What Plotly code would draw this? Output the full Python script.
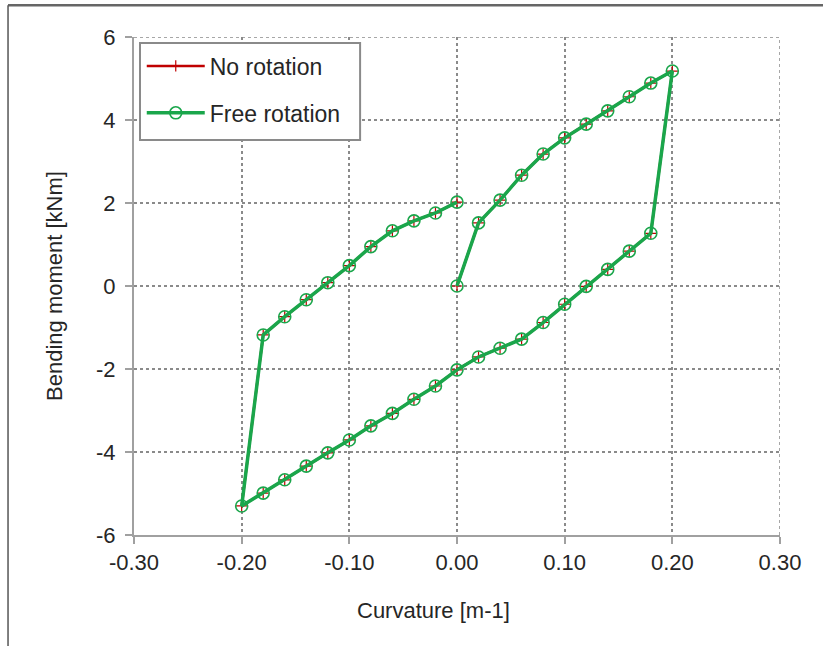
import plotly.graph_objects as go

curvature = [0.00, 0.02, 0.04, 0.06, 0.08, 0.10, 0.12, 0.14, 0.16, 0.18, 0.20,
             0.18, 0.16, 0.14, 0.12, 0.10, 0.08, 0.06, 0.04, 0.02, 0.00,
             -0.02, -0.04, -0.06, -0.08, -0.10, -0.12, -0.14, -0.16, -0.18, -0.20,
             -0.18, -0.16, -0.14, -0.12, -0.10, -0.08, -0.06, -0.04, -0.02, 0.00]
moment_no_rot = [0.00, 1.52, 2.07, 2.67, 3.18, 3.57, 3.90, 4.22, 4.56, 4.89, 5.18,
                 1.27, 0.84, 0.40, -0.01, -0.44, -0.88, -1.28, -1.50, -1.71, -2.02,
                 -2.41, -2.73, -3.07, -3.37, -3.71, -4.02, -4.34, -4.67, -4.99, -5.30,
                 -1.18, -0.74, -0.33, 0.08, 0.49, 0.95, 1.33, 1.57, 1.76, 2.02]
moment_free_rot = list(moment_no_rot)

x_ticks = [-0.30, -0.20, -0.10, 0.00, 0.10, 0.20, 0.30]
x_tick_labels = ["-0.30", "-0.20", "-0.10", "0.00", "0.10", "0.20", "0.30"]
y_ticks = [-6, -4, -2, 0, 2, 4, 6]
y_tick_labels = ["-6", "-4", "-2", "0", "2", "4", "6"]

X_RANGE = [-0.30, 0.30]
Y_RANGE = [-6, 6]

FONT = "Liberation Sans, Arial, sans-serif"
GREEN = "#1aa64b"
RED = "#c00000"
TXT = "#262626"
GRID = "#8a8a8a"

fig = go.Figure()
fig.add_trace(go.Scatter(
    x=curvature, y=moment_no_rot, name="No rotation", mode="lines+markers",
    line=dict(color=RED, width=2.5),
    marker=dict(symbol="cross-thin-open", size=8, line=dict(color=RED, width=1.2)),
    legendgroup="a",
))
fig.add_trace(go.Scatter(
    x=curvature, y=moment_free_rot, name="Free rotation", mode="lines+markers",
    line=dict(color=GREEN, width=3.5),
    marker=dict(symbol="circle-open", size=12, color=GREEN, line=dict(color=GREEN, width=1.6)),
    legendgroup="b",
))

axis_common = dict(
    showgrid=True, gridcolor=GRID, griddash="dot", gridwidth=1.5,
    zeroline=False, showline=True, linecolor="#a0a0a0", linewidth=2,
    ticks="outside", ticklen=7, tickcolor="#a0a0a0", tickwidth=1.5,
    tickfont=dict(family=FONT, size=22, color=TXT),
)

fig.update_layout(
    width=823, height=646,
    paper_bgcolor="white", plot_bgcolor="white",
    margin=dict(l=134, r=43, t=37, b=111),
    font=dict(family=FONT, size=22, color=TXT),
    xaxis=dict(range=X_RANGE, tickvals=x_ticks, ticktext=x_tick_labels,
               ticklabelstandoff=0, **axis_common),
    yaxis=dict(range=Y_RANGE, tickvals=y_ticks, ticktext=y_tick_labels,
               ticklabelstandoff=5,
               title=dict(text="Bending moment [kNm]", font=dict(family=FONT, size=22, color=TXT), standoff=27),
               **axis_common),
    legend=dict(x=0.012, y=0.985, xanchor="left", yanchor="top",
                bgcolor="rgba(0,0,0,0)", borderwidth=0,
                font=dict(family=FONT, size=23, color=TXT),
                tracegroupgap=14, traceorder="grouped", itemwidth=58),
    showlegend=True,
    annotations=[dict(text="Curvature [m-1]", xref="paper", yref="paper",
                      x=0.464, y=-0.151, xanchor="center", yanchor="middle",
                      showarrow=False, font=dict(family=FONT, size=22, color=TXT))],
)

# dotted top and right edges of the plot area, like the outer grid lines of the original
fig.add_shape(type="line", xref="x", yref="y", x0=X_RANGE[0], x1=X_RANGE[1], y0=Y_RANGE[1], y1=Y_RANGE[1],
              line=dict(color=GRID, width=1.5, dash="dot"), layer="below")
fig.add_shape(type="line", xref="x", yref="y", x0=X_RANGE[1], x1=X_RANGE[1], y0=Y_RANGE[0], y1=Y_RANGE[1],
              line=dict(color=GRID, width=1.5, dash="dot"), layer="below")

# legend frame (wider than plotly's own legend box, as in the original)
fig.add_shape(type="rect", xref="paper", yref="paper", x0=0.0093, x1=0.35, y0=0.793, y1=0.988,
              line=dict(color=GRID, width=2), fillcolor="white", layer="above")

# outer frame (top and left edges of the original picture border)
fig.add_shape(type="line", xref="paper", yref="paper", x0=-0.195, x1=1.07, y0=1.064, y1=1.064,
              line=dict(color="#666", width=2.5))
fig.add_shape(type="line", xref="paper", yref="paper", x0=-0.195, x1=-0.195, y0=1.064, y1=-0.23,
              line=dict(color="#555", width=1.5))

fig.write_html("out.html")
